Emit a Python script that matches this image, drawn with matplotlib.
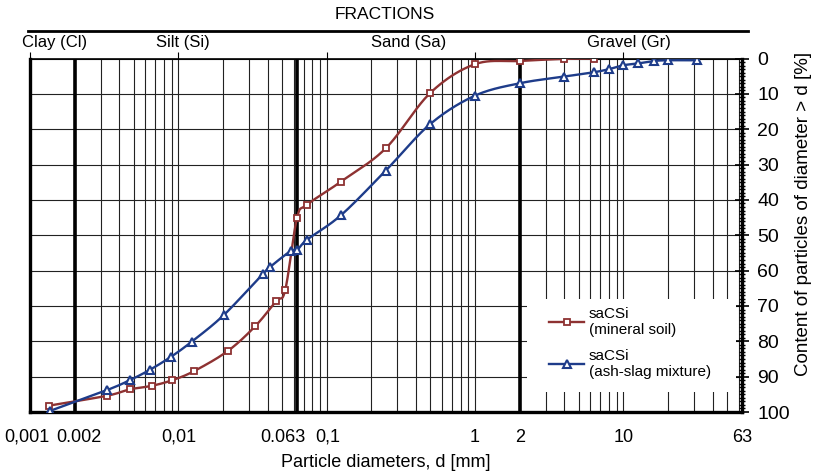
import numpy as np
import matplotlib
matplotlib.use("Agg")
import matplotlib.pyplot as plt
import matplotlib.transforms as mtransforms
from matplotlib.ticker import FixedLocator, LogLocator, MultipleLocator, NullFormatter
from matplotlib.patches import Rectangle

plt.rcParams['font.family'] = ['Liberation Sans', 'DejaVu Sans']

# grain size curves, d in mm, content of particles > d in %
soil_d = [0.00134, 0.0033, 0.0047, 0.0066, 0.0091, 0.0128, 0.0216, 0.033, 0.0456,
          0.0525, 0.063, 0.0735, 0.125, 0.25, 0.5, 1.0, 2.0, 4.0, 6.3]
soil_pct = [98.2, 95.4, 93.6, 92.6, 91.0, 88.4, 82.7, 75.7, 68.6,
            65.5, 45.2, 41.4, 34.8, 25.4, 9.7, 1.6, 0.7, 0.1, 0.0]

ash_d = [0.00136, 0.0033, 0.0047, 0.0064, 0.0089, 0.0123, 0.0202, 0.037, 0.0417,
         0.0574, 0.063, 0.074, 0.125, 0.25, 0.5, 1.0, 2.0, 4.0, 6.3, 8.0, 10.0,
         12.5, 16.0, 20.0, 31.5]
ash_pct = [99.7, 93.8, 91.0, 88.1, 84.4, 80.1, 72.6, 61.0, 58.9,
           54.4, 54.2, 51.2, 44.3, 31.7, 18.5, 10.5, 7.0, 5.1, 3.9, 3.0, 1.9,
           1.4, 0.7, 0.5, 0.5]

tick_pos = [0.001, 0.002, 0.01, 0.063, 0.1, 1, 2, 10, 63]
tick_txt = ['0,001', '0.002', '0,01', '0.063', '0,1', '1', '2', '10', '63']
tick_shift = [-2, 3, 0, -10, 1, 0, 0, 0, 0]  # points, keeps labels apart
limits = [0.002, 0.063, 2]  # fraction boundaries

fractions = ['Clay (Cl)', 'Silt (Si)', 'Sand (Sa)', 'Gravel (Gr)']
fraction_x = [0.00146, 0.0108, 0.354, 10.9]

RED = '#8e3232'
BLUE = '#1e3c8a'
GRID = '#222222'


def smooth(xs, ys, n=24):
    """Catmull-Rom curve through the points (log x), like a smoothed line in a spreadsheet."""
    lx = np.log10(xs)
    ys = np.asarray(ys, float)
    px = np.concatenate([[2 * lx[0] - lx[1]], lx, [2 * lx[-1] - lx[-2]]])
    py = np.concatenate([[2 * ys[0] - ys[1]], ys, [2 * ys[-1] - ys[-2]]])
    t = np.linspace(0, 1, n)
    ox, oy = [], []
    for i in range(1, len(px) - 2):
        for p, out in ((px, ox), (py, oy)):
            p0, p1, p2, p3 = p[i - 1], p[i], p[i + 1], p[i + 2]
            out.extend(0.5 * (2 * p1 + (-p0 + p2) * t
                              + (2 * p0 - 5 * p1 + 4 * p2 - p3) * t ** 2
                              + (-p0 + 3 * p1 - 3 * p2 + p3) * t ** 3))
    return 10 ** np.array(ox), np.array(oy)


fig = plt.figure(figsize=(8.14, 4.75), dpi=100)
ax = fig.add_axes([0.0369, 0.1326, 0.8746, 0.7442])

ax.set_xscale('log')
ax.set_xlim(0.001, 63)
ax.set_ylim(100, 0)
ax.set_axisbelow(True)

# vertical grid: every 1..9 of each decade
ax.xaxis.set_major_locator(FixedLocator([]))
ax.xaxis.set_minor_locator(LogLocator(base=10, subs=np.arange(1, 10), numticks=30))
ax.xaxis.set_minor_formatter(NullFormatter())
ax.grid(which='minor', axis='x', color=GRID, lw=0.8)
ax.tick_params(axis='x', which='both', length=0)
for v in limits:
    ax.axvline(v, color='black', lw=2.6, zorder=1)

# horizontal grid
ax.yaxis.set_major_locator(MultipleLocator(10))
ax.yaxis.set_minor_locator(MultipleLocator(1))
ax.grid(which='major', axis='y', color=GRID, lw=0.8)

# x labels as text so they can be nudged apart
xtrans = ax.get_xaxis_transform()
for xv, txt, sh in zip(tick_pos, tick_txt, tick_shift):
    tr = mtransforms.offset_copy(xtrans, fig=fig, x=sh, y=0, units='points')
    ax.text(xv, -0.072, txt, transform=tr, ha='center', va='center', fontsize=13)
ax.text(0.5, -0.142, 'Particle diameters, d [mm]', transform=ax.transAxes,
        ha='center', va='center', fontsize=13)

ax.yaxis.tick_right()
ax.yaxis.set_label_position('right')
ax.tick_params(axis='y', which='major', direction='inout', length=10, width=1.2,
               labelsize=14, pad=6)
ax.tick_params(axis='y', which='minor', direction='inout', length=5, width=1.0)
ax.set_ylabel('Content of particles of diameter > d [%]', fontsize=13.5)
ax.yaxis.set_label_coords(1.074, 0.56)

for side in ['left', 'bottom', 'right']:
    ax.spines[side].set_linewidth(2.4)
ax.spines['top'].set_linewidth(1.2)

# top axis with decade ticks
top = ax.secondary_xaxis('top')
top.set_xticks([0.001, 0.01, 0.1, 1, 10])
top.set_xticklabels([])
top.xaxis.set_minor_locator(FixedLocator([]))
top.tick_params(direction='out', length=5, width=0.8)
top.spines['top'].set_visible(False)

for name, xv in zip(fractions, fraction_x):
    ax.text(xv, 1.045, name, transform=xtrans, ha='center', va='center', fontsize=12)
fig.text(0.473, 0.970, 'FRACTIONS', ha='center', va='center', fontsize=12.5)
fig.add_artist(plt.Line2D([0.034, 0.919], [0.935, 0.935], color='black', lw=2.0))

# curves
sx, sy = smooth(soil_d, soil_pct)
ax.plot(sx, sy, color=RED, lw=1.7, zorder=3)
ax.plot(soil_d, soil_pct, ls='none', marker='s', ms=4.5, mfc='white', mec=RED,
        mew=1.3, zorder=4)
bx, by = smooth(ash_d, ash_pct)
ax.plot(bx, by, color=BLUE, lw=1.7, zorder=3)
ax.plot(ash_d, ash_pct, ls='none', marker='^', ms=6, mfc='white', mec=BLUE,
        mew=1.5, zorder=4)

# legend area (white box over the grid)
ax.add_patch(Rectangle((0.698, 0.057), 0.294, 0.262, transform=ax.transAxes,
                       facecolor='white', edgecolor='none', zorder=2))
h1 = plt.Line2D([], [], color=RED, lw=1.7, marker='s', ms=4.5, mfc='white', mew=1.3)
h2 = plt.Line2D([], [], color=BLUE, lw=1.7, marker='^', ms=6, mfc='white', mew=1.5)
leg = ax.legend([h1, h2], ['saCSi\n(mineral soil)', 'saCSi\n(ash-slag mixture)'],
                loc='lower left', bbox_to_anchor=(0.71, 0.055), frameon=False,
                fontsize=11, handlelength=2.3, handletextpad=0.3,
                labelspacing=0.75)
leg.set_zorder(5)

fig.savefig('out.png', dpi=100)
